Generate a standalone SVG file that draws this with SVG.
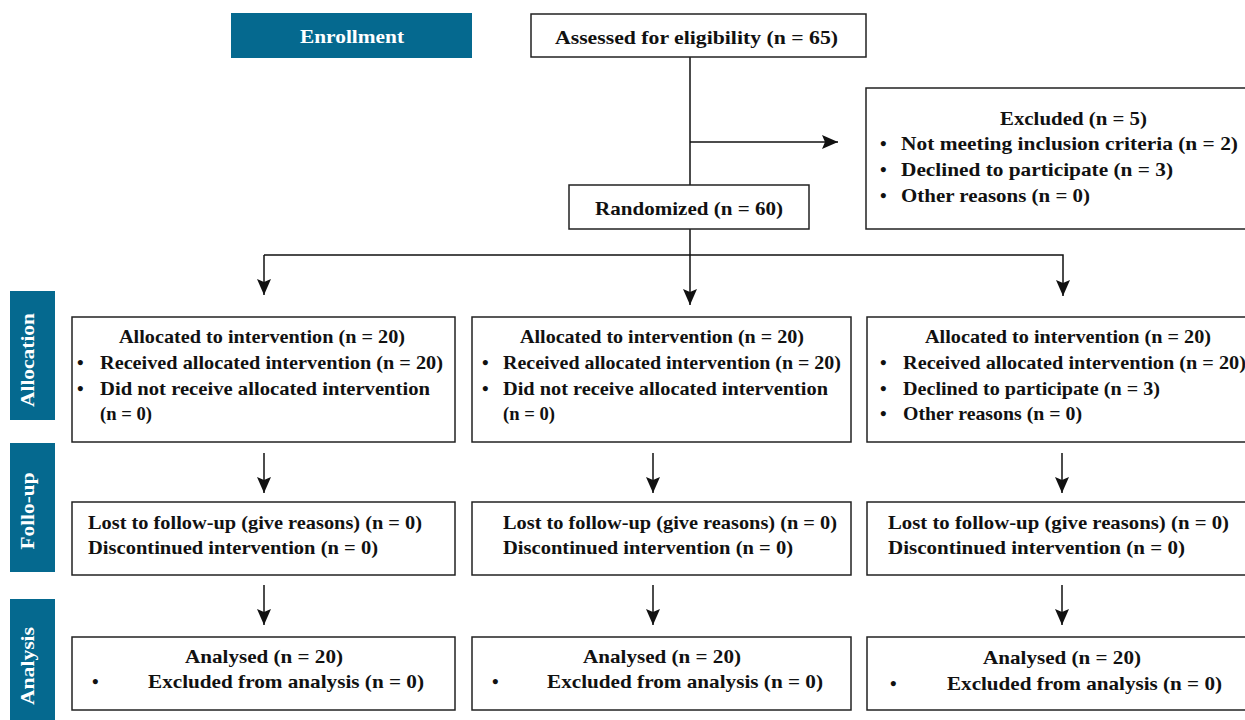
<svg xmlns="http://www.w3.org/2000/svg" width="1245" height="720" viewBox="0 0 1245 720">
<style>
.t{font-family:"Liberation Serif","Times New Roman",serif;font-weight:bold;font-size:19px;fill:#111}
.w{font-family:"Liberation Serif","Times New Roman",serif;font-weight:bold;font-size:19px;fill:#fff}
.box{fill:#fff;stroke:#222;stroke-width:1.5}
.band{fill:#05698f}
.ln{fill:none;stroke:#111;stroke-width:1.5}
</style>
<defs>
<marker id="ah" markerUnits="userSpaceOnUse" markerWidth="16" markerHeight="14" viewBox="0 0 16 14" refX="16" refY="7" orient="auto">
<path d="M0,0 L3,7 L0,14 L16,7 Z" fill="#111"/>
</marker>
</defs>
<rect width="1245" height="720" fill="#fff"/>

<g id="connectors">
<path class="ln" d="M690,57 V185"/>
<path class="ln" d="M690,142 H838" marker-end="url(#ah)"/>
<path class="ln" d="M690,229 V305" marker-end="url(#ah)"/>
<path class="ln" d="M264,255 H1063 V296" marker-end="url(#ah)"/>
<path class="ln" d="M264,255 V295" marker-end="url(#ah)"/>
<path class="ln" d="M264,453 V493" marker-end="url(#ah)"/>
<path class="ln" d="M264,585 V625" marker-end="url(#ah)"/>
<path class="ln" d="M653,453 V493" marker-end="url(#ah)"/>
<path class="ln" d="M653,585 V625" marker-end="url(#ah)"/>
<path class="ln" d="M1062,453 V493" marker-end="url(#ah)"/>
<path class="ln" d="M1062,585 V625" marker-end="url(#ah)"/>
</g>

<g id="enrollment">
<rect class="band" x="231" y="13" width="241" height="45"/>
<text class="w" x="300" y="43" font-size="18" textLength="104" lengthAdjust="spacingAndGlyphs">Enrollment</text>
</g>
<g id="allocation-label">
<rect class="band" x="10" y="291" width="45" height="129"/>
<text class="w" transform="translate(34,360) rotate(-90)" x="-47" y="0" font-size="21" textLength="94" lengthAdjust="spacingAndGlyphs">Allocation</text>
</g>
<g id="followup-label">
<rect class="band" x="10" y="443" width="45" height="129"/>
<text class="w" transform="translate(34,511) rotate(-90)" x="-38.5" y="0" font-size="21" textLength="77" lengthAdjust="spacingAndGlyphs">Follo-up</text>
</g>
<g id="analysis-label">
<rect class="band" x="10" y="599" width="45" height="121"/>
<text class="w" transform="translate(34,666) rotate(-90)" x="-39" y="0" font-size="21" textLength="78" lengthAdjust="spacingAndGlyphs">Analysis</text>
</g>

<g id="assessed">
<rect class="box" x="531" y="14" width="335" height="43"/>
<text class="t" x="555" y="44" textLength="283" lengthAdjust="spacingAndGlyphs">Assessed for eligibility (n = 65)</text>
</g>
<g id="excluded">
<rect class="box" x="866" y="88" width="390" height="141"/>
<text class="t" x="1000" y="125" textLength="147" lengthAdjust="spacingAndGlyphs">Excluded (n = 5)</text>
<text class="t" x="880" y="150">•</text>
<text class="t" x="901" y="150" textLength="337" lengthAdjust="spacingAndGlyphs">Not meeting inclusion criteria (n = 2)</text>
<text class="t" x="880" y="176">•</text>
<text class="t" x="901" y="176" textLength="272" lengthAdjust="spacingAndGlyphs">Declined to participate (n = 3)</text>
<text class="t" x="880" y="202">•</text>
<text class="t" x="901" y="202" textLength="189" lengthAdjust="spacingAndGlyphs">Other reasons (n = 0)</text>
</g>
<g id="randomized">
<rect class="box" x="569" y="185" width="240" height="44"/>
<text class="t" x="595" y="215" textLength="188" lengthAdjust="spacingAndGlyphs">Randomized (n = 60)</text>
</g>

<g id="alloc1">
<rect class="box" x="72" y="317" width="383" height="125"/>
<text class="t" x="119" y="343" textLength="286" lengthAdjust="spacingAndGlyphs">Allocated to intervention (n = 20)</text>
<text class="t" x="77" y="369">•</text>
<text class="t" x="100" y="369" textLength="343" lengthAdjust="spacingAndGlyphs">Received allocated intervention (n = 20)</text>
<text class="t" x="77" y="395">•</text>
<text class="t" x="100" y="395" textLength="330" lengthAdjust="spacingAndGlyphs">Did not receive allocated intervention</text>
<text class="t" x="100" y="420" textLength="52" lengthAdjust="spacingAndGlyphs">(n = 0)</text>
</g>
<g id="alloc2">
<rect class="box" x="472" y="317" width="379" height="125"/>
<text class="t" x="520" y="343" textLength="284" lengthAdjust="spacingAndGlyphs">Allocated to intervention (n = 20)</text>
<text class="t" x="482" y="369">•</text>
<text class="t" x="503" y="369" textLength="338" lengthAdjust="spacingAndGlyphs">Received allocated intervention (n = 20)</text>
<text class="t" x="482" y="395">•</text>
<text class="t" x="503" y="395" textLength="325" lengthAdjust="spacingAndGlyphs">Did not receive allocated intervention</text>
<text class="t" x="503" y="420" textLength="52" lengthAdjust="spacingAndGlyphs">(n = 0)</text>
</g>
<g id="alloc3">
<rect class="box" x="867" y="317" width="390" height="125"/>
<text class="t" x="925" y="343" textLength="286" lengthAdjust="spacingAndGlyphs">Allocated to intervention (n = 20)</text>
<text class="t" x="880" y="369">•</text>
<text class="t" x="903" y="369" textLength="343" lengthAdjust="spacingAndGlyphs">Received allocated intervention (n = 20)</text>
<text class="t" x="880" y="395">•</text>
<text class="t" x="903" y="395" textLength="257" lengthAdjust="spacingAndGlyphs">Declined to participate (n = 3)</text>
<text class="t" x="880" y="420">•</text>
<text class="t" x="903" y="420" textLength="179" lengthAdjust="spacingAndGlyphs">Other reasons (n = 0)</text>
</g>

<g id="follow1">
<rect class="box" x="72" y="502" width="383" height="73"/>
<text class="t" x="88" y="529" textLength="334" lengthAdjust="spacingAndGlyphs">Lost to follow-up (give reasons) (n = 0)</text>
<text class="t" x="88" y="554" textLength="290" lengthAdjust="spacingAndGlyphs">Discontinued intervention (n = 0)</text>
</g>
<g id="follow2">
<rect class="box" x="472" y="502" width="379" height="73"/>
<text class="t" x="503" y="529" textLength="334" lengthAdjust="spacingAndGlyphs">Lost to follow-up (give reasons) (n = 0)</text>
<text class="t" x="503" y="554" textLength="290" lengthAdjust="spacingAndGlyphs">Discontinued intervention (n = 0)</text>
</g>
<g id="follow3">
<rect class="box" x="867" y="502" width="390" height="73"/>
<text class="t" x="888" y="529" textLength="341" lengthAdjust="spacingAndGlyphs">Lost to follow-up (give reasons) (n = 0)</text>
<text class="t" x="888" y="554" textLength="297" lengthAdjust="spacingAndGlyphs">Discontinued intervention (n = 0)</text>
</g>

<g id="analysis1">
<rect class="box" x="72" y="637" width="383" height="73"/>
<text class="t" x="185" y="663" textLength="158" lengthAdjust="spacingAndGlyphs">Analysed (n = 20)</text>
<text class="t" x="92" y="688">•</text>
<text class="t" x="148" y="688" textLength="276" lengthAdjust="spacingAndGlyphs">Excluded from analysis (n = 0)</text>
</g>
<g id="analysis2">
<rect class="box" x="472" y="637" width="379" height="73"/>
<text class="t" x="583" y="663" textLength="158" lengthAdjust="spacingAndGlyphs">Analysed (n = 20)</text>
<text class="t" x="492" y="688">•</text>
<text class="t" x="547" y="688" textLength="276" lengthAdjust="spacingAndGlyphs">Excluded from analysis (n = 0)</text>
</g>
<g id="analysis3">
<rect class="box" x="867" y="637" width="390" height="73"/>
<text class="t" x="983" y="664" textLength="158" lengthAdjust="spacingAndGlyphs">Analysed (n = 20)</text>
<text class="t" x="890" y="690">•</text>
<text class="t" x="947" y="690" textLength="275" lengthAdjust="spacingAndGlyphs">Excluded from analysis (n = 0)</text>
</g>
</svg>
